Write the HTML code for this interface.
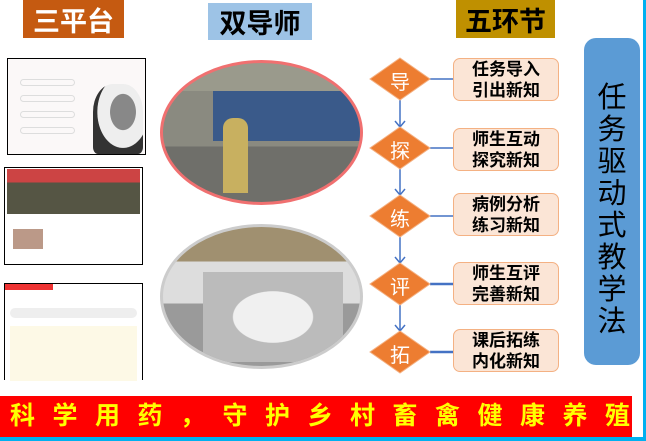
<!DOCTYPE html>
<html><head><meta charset="utf-8"><style>
body{margin:0;width:646px;height:441px;overflow:hidden;background:#fff;position:relative;font-family:"Liberation Sans","Noto Sans CJK SC",sans-serif}
div{position:absolute;box-sizing:border-box}
.hd{display:flex;align-items:center;justify-content:center;font-size:27px;font-weight:bold}
.bx{background:#fbe5d6;border:1.5px solid #f4b183;border-radius:7px;font-size:17px;font-weight:bold;line-height:21px;text-align:center;display:flex;align-items:center;justify-content:center;width:106px;height:43px;left:453px}
.dt{font-size:20px;color:#fff;width:40px;text-align:center;left:380px}
</style></head><body>
<div class="hd" style="left:23px;top:0;width:101px;height:38px;background:#c55a11;color:#fff">三平台</div>
<div class="hd" style="left:208px;top:3px;width:104px;height:37px;background:#9dc3e6;color:#000">双导师</div>
<div class="hd" style="left:456px;top:0;width:99px;height:38px;background:#bf9000;color:#000">五环节</div>
<div style="left:584px;top:38px;width:56px;height:327px;background:#5b9bd5;border-radius:12px;font-size:29px;line-height:32px;text-align:center;padding-top:44px;color:#000">任<br>务<br>驱<br>动<br>式<br>教<br>学<br>法</div>

<div style="left:7px;top:58px;width:139px;height:97px;border:1px solid #000;background:#fbf8f8">
 <div style="left:12px;top:20px;width:55px;height:7px;border:1px solid #ddd;border-radius:4px"></div>
 <div style="left:12px;top:36px;width:55px;height:7px;border:1px solid #ddd;border-radius:4px"></div>
 <div style="left:12px;top:52px;width:55px;height:7px;border:1px solid #ddd;border-radius:4px"></div>
 <div style="left:12px;top:68px;width:55px;height:7px;border:1px solid #ddd;border-radius:4px"></div>
 <div style="left:85px;top:25px;width:50px;height:70px;background:radial-gradient(ellipse at 60% 40%,#888 0 30%,#eee 31% 60%,#333 61%);border-radius:40% 40% 10% 10%"></div>
</div>
<div style="left:4px;top:167px;width:139px;height:98px;border:1px solid #000;background:#fff">
 <div style="left:2px;top:1px;width:133px;height:45px;background:linear-gradient(#c44 0 30%,#554 30% 100%)"></div>
 <div style="left:8px;top:61px;width:30px;height:20px;background:#b98"></div>
</div>
<div style="left:4px;top:283px;width:139px;height:97px;border:1px solid #000;border-bottom:none;background:#fff">
 <div style="left:0;top:0;width:48px;height:6px;background:#e33"></div>
 <div style="left:5px;top:24px;width:127px;height:10px;background:#eee;border-radius:5px"></div>
 <div style="left:5px;top:42px;width:127px;height:55px;background:#fdf9e6"></div>
</div>

<div style="left:160px;top:60px;width:203px;height:145px;border-radius:50%;border:3px solid #f07070;background:linear-gradient(#9a9a8c 0 20%,#8a8a80 20% 60%,#6f6f6a 60%);overflow:hidden">
 <div style="left:50px;top:28px;width:150px;height:50px;background:#3a5a8a"></div>
 <div style="left:60px;top:55px;width:25px;height:75px;background:#c8b060;border-radius:10px 10px 0 0"></div>
</div>
<div style="left:160px;top:224px;width:203px;height:145px;border-radius:50%;border:3px solid #ccc;background:linear-gradient(#a09070 0 25%,#ddd 25% 55%,#9a9a9a 55%);overflow:hidden">
 <div style="left:40px;top:45px;width:140px;height:90px;background:radial-gradient(ellipse,#f0f0f0 0 40%,#bbb 41%)"></div>
</div>

<svg style="position:absolute;left:0;top:0" width="646" height="441">
 <g stroke="#4472c4" stroke-width="1.5" fill="none">
  <line x1="400" y1="99" x2="400" y2="127"/><polyline points="395,121 400,127 405,121"/>
  <line x1="400" y1="169" x2="400" y2="195"/><polyline points="395,189 400,195 405,189"/>
  <line x1="400" y1="237" x2="400" y2="263"/><polyline points="395,257 400,263 405,257"/>
  <line x1="400" y1="305" x2="400" y2="331"/><polyline points="395,325 400,331 405,325"/>
  <line x1="429" y1="79" x2="453" y2="79"/>
  <line x1="430" y1="148" x2="453" y2="148"/>
  <line x1="430" y1="216" x2="453" y2="216"/>
  <line x1="430" y1="284" x2="453" y2="284" stroke-width="2.5"/>
  <line x1="430" y1="352" x2="453" y2="352" stroke-width="2.5"/>
 </g>
 <g fill="#ed7d31" stroke="#f4b183" stroke-width="1">
  <polygon points="400,58 430,79 400,100 370,79"/>
  <polygon points="400,127 430,148 400,169 370,148"/>
  <polygon points="400,195 430,216 400,237 370,216"/>
  <polygon points="400,263 430,284 400,305 370,284"/>
  <polygon points="400,331 430,352 400,373 370,352"/>
 </g>
</svg>
<div class="dt" style="top:66px">导</div>
<div class="dt" style="top:135px">探</div>
<div class="dt" style="top:203px">练</div>
<div class="dt" style="top:271px">评</div>
<div class="dt" style="top:339px">拓</div>
<div class="bx" style="top:58px">任务导入<br>引出新知</div>
<div class="bx" style="top:128px">师生互动<br>探究新知</div>
<div class="bx" style="top:193px">病例分析<br>练习新知</div>
<div class="bx" style="top:262px">师生互评<br>完善新知</div>
<div class="bx" style="top:329px">课后拓练<br>内化新知</div>

<div style="left:0;top:396px;width:632px;height:41px;background:#ff0000;color:#ffff00;font-size:25px;font-weight:bold;line-height:41px;padding-left:10px;letter-spacing:17.5px;white-space:nowrap">科学用药，守护乡村畜禽健康养殖</div>
<div style="left:0;top:437px;width:646px;height:4px;background:#00b0f0"></div>
<div style="left:643px;top:0;width:3px;height:441px;background:#00b0f0"></div>
</body></html>
